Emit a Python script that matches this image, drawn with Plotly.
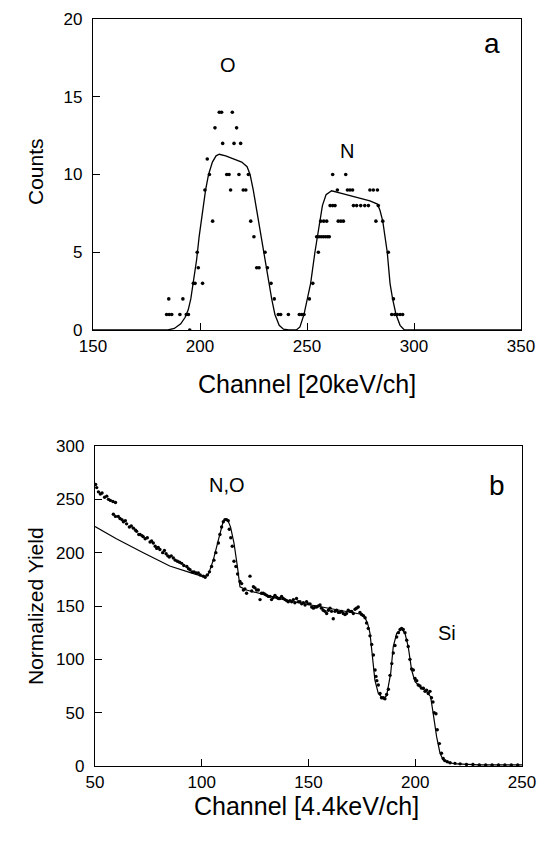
import plotly.graph_objects as go

# ---------------- Panel a: counts vs channel (20 keV/ch) ----------------
chan_a = [184.4, 185.6, 186.8, 185.4, 190.6, 192.0, 193.6, 194.6, 195.2, 196.9, 197.7,
          198.7, 199.2, 201.2, 202.3, 203.4, 204.4, 205.9, 207.0, 209.0, 210.1, 210.6,
          212.5, 213.6, 214.3, 215.1, 215.9, 217.1, 218.2, 219.0, 220.2, 221.4, 222.6,
          223.7, 225.2, 226.5, 227.6, 230.4, 231.5, 233.2, 234.7, 236.6, 237.7, 241.3,
          246.4, 247.5, 248.6, 251.1, 252.7,
          254.5, 255.6, 256.6, 257.6, 258.6, 259.6, 260.4,
          255.3, 256.4, 257.8, 259.2, 260.8, 262.0, 263.1, 262.0, 268.1, 264.2,
          264.6, 265.8, 267.0, 268.9, 270.1, 271.3,
          271.7, 273.2, 275.1, 277.0, 278.7, 279.4, 281.0, 282.9, 282.2, 283.3,
          285.4, 288.0, 290.4, 289.6, 291.0, 292.2, 293.5, 294.7]
counts_a = [1, 1, 1, 2, 1, 2, 1, 1, 0, 3, 3,
            5, 4, 3, 9, 11, 10, 7, 13, 14, 14, 12,
            10, 10, 9, 14, 12, 13, 10, 12, 9, 9, 10,
            7, 6, 4, 4, 5, 4, 3, 2, 1, 1, 1,
            1, 1, 1, 2, 3,
            6, 6, 6, 6, 6, 6, 6,
            5, 7, 7, 7, 8, 8, 8, 10, 10, 9,
            7, 7, 7, 9, 9, 9,
            8, 8, 8, 8, 8, 9, 9, 9, 7, 8,
            7, 5, 2, 1, 1, 1, 1, 1]

fit_chan_a = [150, 185, 188, 191, 193, 194.5, 195.7, 196.9, 198.4, 199.6, 201, 202.6, 204,
              205.8, 207.5, 209, 212, 216, 219.5, 222, 223.4, 224.9, 227.3, 229.6, 232,
              233.5, 235, 237, 239, 241.5, 245, 246.7, 248.6, 250.2, 251.7, 253.7, 255.8,
              257.2, 258.9, 261.5, 267, 273, 279.4, 282.9, 284.1, 285.4, 287.5, 288.8,
              290, 291.6, 293.5, 295.5, 350]
fit_counts_a = [0, 0, 0.1, 0.4, 0.8, 1.3, 2, 3, 4.5, 6, 7.5, 9, 10,
                10.8, 11.2, 11.3, 11.2, 11.0, 10.8, 10.5, 10, 9, 7, 5, 3,
                2, 1, 0.3, 0.05, 0, 0, 0.2, 1, 2, 3, 5, 7,
                8, 8.7, 8.95, 8.75, 8.55, 8.3, 8.1, 7.7, 7, 5, 3,
                2, 1, 0.3, 0, 0]

# ---------------- Panel b: normalized yield vs channel (4.4 keV/ch) ----------------
chan_b = [50.3, 50.8, 51.6, 52.5, 53.3, 54.5, 55.5, 56.3, 57.2, 58.4, 59.6,
          58.6, 59.6, 60.9, 61.7, 62.6, 63.3, 64.2, 64.8, 66.1, 67.0, 68.0, 69.0, 69.5,
          70.5, 71.1, 72.0, 72.6, 73.5, 74.5, 75.8, 76.5, 77.3, 78.2, 78.9, 79.6, 80.4,
          81.7, 82.5, 83.3, 84.1, 84.8, 85.7, 86.7, 87.6, 88.6, 89.6, 90.6, 91.6, 93.0,
          93.8, 94.5, 95.5, 96.4, 97.4, 98.4, 99.3, 100.7, 101.6, 102.6, 103.6, 104.6,
          105.7, 106.6, 107.8, 108.5, 109.3, 110.1, 110.9, 111.6, 112.4, 112.9, 113.6,
          114.3, 115.1, 116.0, 116.8, 117.9, 118.7, 119.5, 120.2, 121.0, 122.6, 123.4,
          124.2, 124.9, 125.7, 126.5, 127.3, 128.0, 128.8, 129.6, 130.4, 131.2, 132.0,
          132.7, 133.5, 134.3, 135.1, 135.9, 136.6, 137.4, 138.2, 139.0, 139.8, 140.5,
          141.3, 142.1, 142.9, 143.6, 144.4, 145.2, 146.0, 146.8, 147.6, 148.4, 149.1,
          149.9, 150.7, 151.5, 152.3, 153.0, 153.8, 154.6, 155.4, 156.1, 156.9, 157.7,
          158.5, 159.3, 160.1, 160.8, 161.6, 162.4, 163.2, 164.0, 164.7, 165.5, 166.3,
          167.1, 167.8, 168.6, 169.4, 170.2, 171.0, 171.8, 172.5, 173.3, 174.1, 174.9,
          175.7, 176.5, 177.2, 178.0, 178.8, 179.6, 180.4, 181.2, 181.6, 182.0, 182.7,
          183.5, 184.2, 185.0, 185.8, 186.6, 187.4, 188.2, 189.0, 189.7, 190.5, 191.3,
          192.1, 192.9, 193.6, 194.4, 195.2, 196.0, 196.7, 197.5, 198.3, 199.1, 199.9,
          200.7, 201.4, 202.2, 203.0, 203.8, 204.6, 205.3, 206.1, 206.9, 207.6, 208.3,
          208.9, 209.7, 210.3, 211.3, 212.3, 213.1, 213.9, 215.0, 216.3, 218.6, 221,
          224, 227, 230, 233, 236, 239, 242, 245, 248]
yield_b = [264, 261, 257, 255, 256, 252, 253, 250, 249, 248, 247,
           236, 234, 234, 232, 231, 229, 230, 227, 224, 225, 223, 221, 220,
           217, 217, 216, 215, 213, 214, 210, 211, 209, 206, 204, 205, 203,
           200, 202, 199, 197, 196, 197, 195, 193, 192, 191, 190, 188, 187,
           185, 184, 182, 182, 181, 181, 179, 178, 177, 179, 182, 187,
           193, 200, 209, 217, 224, 229, 231, 231, 230, 222, 214,
           206, 192, 187, 180, 173, 171, 165, 166, 162, 178, 164,
           168, 167, 165, 165, 156, 162, 162, 161, 160, 159, 159,
           156, 158, 160, 158, 157, 157, 159, 157, 156, 155, 154,
           155, 154, 156, 153, 157, 154, 154, 152, 153, 151, 154,
           152, 152, 149, 148, 149, 149, 150, 151, 148, 146, 145,
           143, 146, 148, 145, 138, 145, 146, 144, 144, 145, 143,
           142, 143, 146, 145, 145, 143, 147, 148, 149, 144, 142,
           141, 139, 134, 129, 122, 114, 104, 90, 84, 80, 76,
           68, 64, 64, 63, 67, 72, 85, 96, 106, 113, 121,
           125, 128, 129, 128, 125, 118, 112, 100, 91, 90, 82,
           80, 76, 75, 73, 73, 70, 71, 68, 70, 64, 60,
           50, 49, 34, 21, 12, 7, 5, 4, 3, 2.5, 2,
           1.5, 1.5, 1, 1, 1, 1, 1, 1, 1]

fit_chan_b = [50, 60, 72.6, 85, 95, 100.7, 103, 105.4, 107.8, 110, 111.3, 112.5, 113.5,
              115.1, 116.7, 117.9, 121, 128, 135, 143, 151, 158, 166, 174, 176.5, 177.8,
              178.8, 180, 181.1, 182.7, 185, 186.6, 188.5, 189.7, 191.3, 193.6, 195.2,
              196.7, 198.3, 199.9, 202.2, 205.3, 207.2, 208.4, 210, 211.6, 213.1, 215.5,
              219.4, 230, 250]
fit_yield_b = [224.5, 213, 200, 187.5, 181, 177.5, 179, 193, 212, 229, 231.5, 229, 224,
               209, 187, 168, 165, 161, 157.5, 154, 151, 148.5, 146, 142.5, 139, 133,
               124.4, 102.5, 80.6, 68, 63, 66, 87, 112, 124.4, 128.5, 124.4,
               112, 90, 79, 74.4, 69.7, 65, 49.4, 27.5, 12, 5.6, 3.1,
               1.9, 1, 1]

ticks_a_x = [150, 200, 250, 300, 350]
ticks_a_y = [0, 5, 10, 15, 20]
ticks_b_x = [50, 100, 150, 200, 250]
ticks_b_y = [0, 50, 100, 150, 200, 250, 300]

# page body has an 8px margin, so the figure is 8px smaller than the window
OFF = 8
W, H = 548 - OFF, 841 - OFF
FONT = "Liberation Sans, Arial, sans-serif"


def fx(px):
    return (px - OFF) / W


def fy(py):
    return 1 - (py - OFF) / H


fig = go.Figure()
fig.add_trace(go.Scatter(x=fit_chan_a, y=fit_counts_a, mode="lines",
                         line=dict(color="black", width=1.3), xaxis="x", yaxis="y"))
fig.add_trace(go.Scatter(x=chan_a, y=counts_a, mode="markers",
                         marker=dict(color="black", size=3.6), xaxis="x", yaxis="y"))
fig.add_trace(go.Scatter(x=fit_chan_b, y=fit_yield_b, mode="lines",
                         line=dict(color="black", width=1.2), xaxis="x2", yaxis="y2"))
fig.add_trace(go.Scatter(x=chan_b, y=yield_b, mode="markers",
                         marker=dict(color="black", size=3.4), xaxis="x2", yaxis="y2"))

axis_common = dict(showline=True, linecolor="black", linewidth=1.4, mirror=True,
                   ticks="inside", ticklen=7, tickwidth=1.2, tickcolor="black",
                   showgrid=False, zeroline=False, automargin=False,
                   ticklabeloverflow="allow",
                   tickfont=dict(family=FONT, size=17, color="black"))

fig.update_layout(
    width=W, height=H,
    margin=dict(l=0, r=0, t=0, b=0, autoexpand=False),
    paper_bgcolor="white", plot_bgcolor="white",
    showlegend=False,
    xaxis=dict(domain=[fx(93), fx(521)], range=[150, 350], tickvals=ticks_a_x,
               anchor="y", **axis_common),
    yaxis=dict(domain=[fy(330), fy(19)], range=[0, 20], tickvals=ticks_a_y,
               anchor="x", ticklabelstandoff=6, **axis_common),
    xaxis2=dict(domain=[fx(95), fx(522)], range=[50, 250], tickvals=ticks_b_x,
                anchor="y2", **axis_common),
    yaxis2=dict(domain=[fy(766), fy(446)], range=[0, 300], tickvals=ticks_b_y,
                anchor="x2", ticklabelstandoff=6, **axis_common),
)


def label(text, px, py, size, angle=0):
    fig.add_annotation(text=text, x=fx(px), y=fy(py), xref="paper", yref="paper",
                       showarrow=False, textangle=angle, xanchor="center", yanchor="middle",
                       font=dict(family=FONT, size=size, color="black"))


label("Counts", 35, 172, 21, -90)
label("Channel [20keV/ch]", 307, 384, 25)
label("Normalized Yield", 35, 606, 21, -90)
label("Channel [4.4keV/ch]", 306, 806, 25)
label("O", 228, 65, 20)
label("N", 347, 151, 20)
label("a", 492, 44, 28)
label("N,O", 227, 485, 20)
label("b", 497, 485, 28)
label("Si", 447, 633, 20)

fig.write_html("out.html")
